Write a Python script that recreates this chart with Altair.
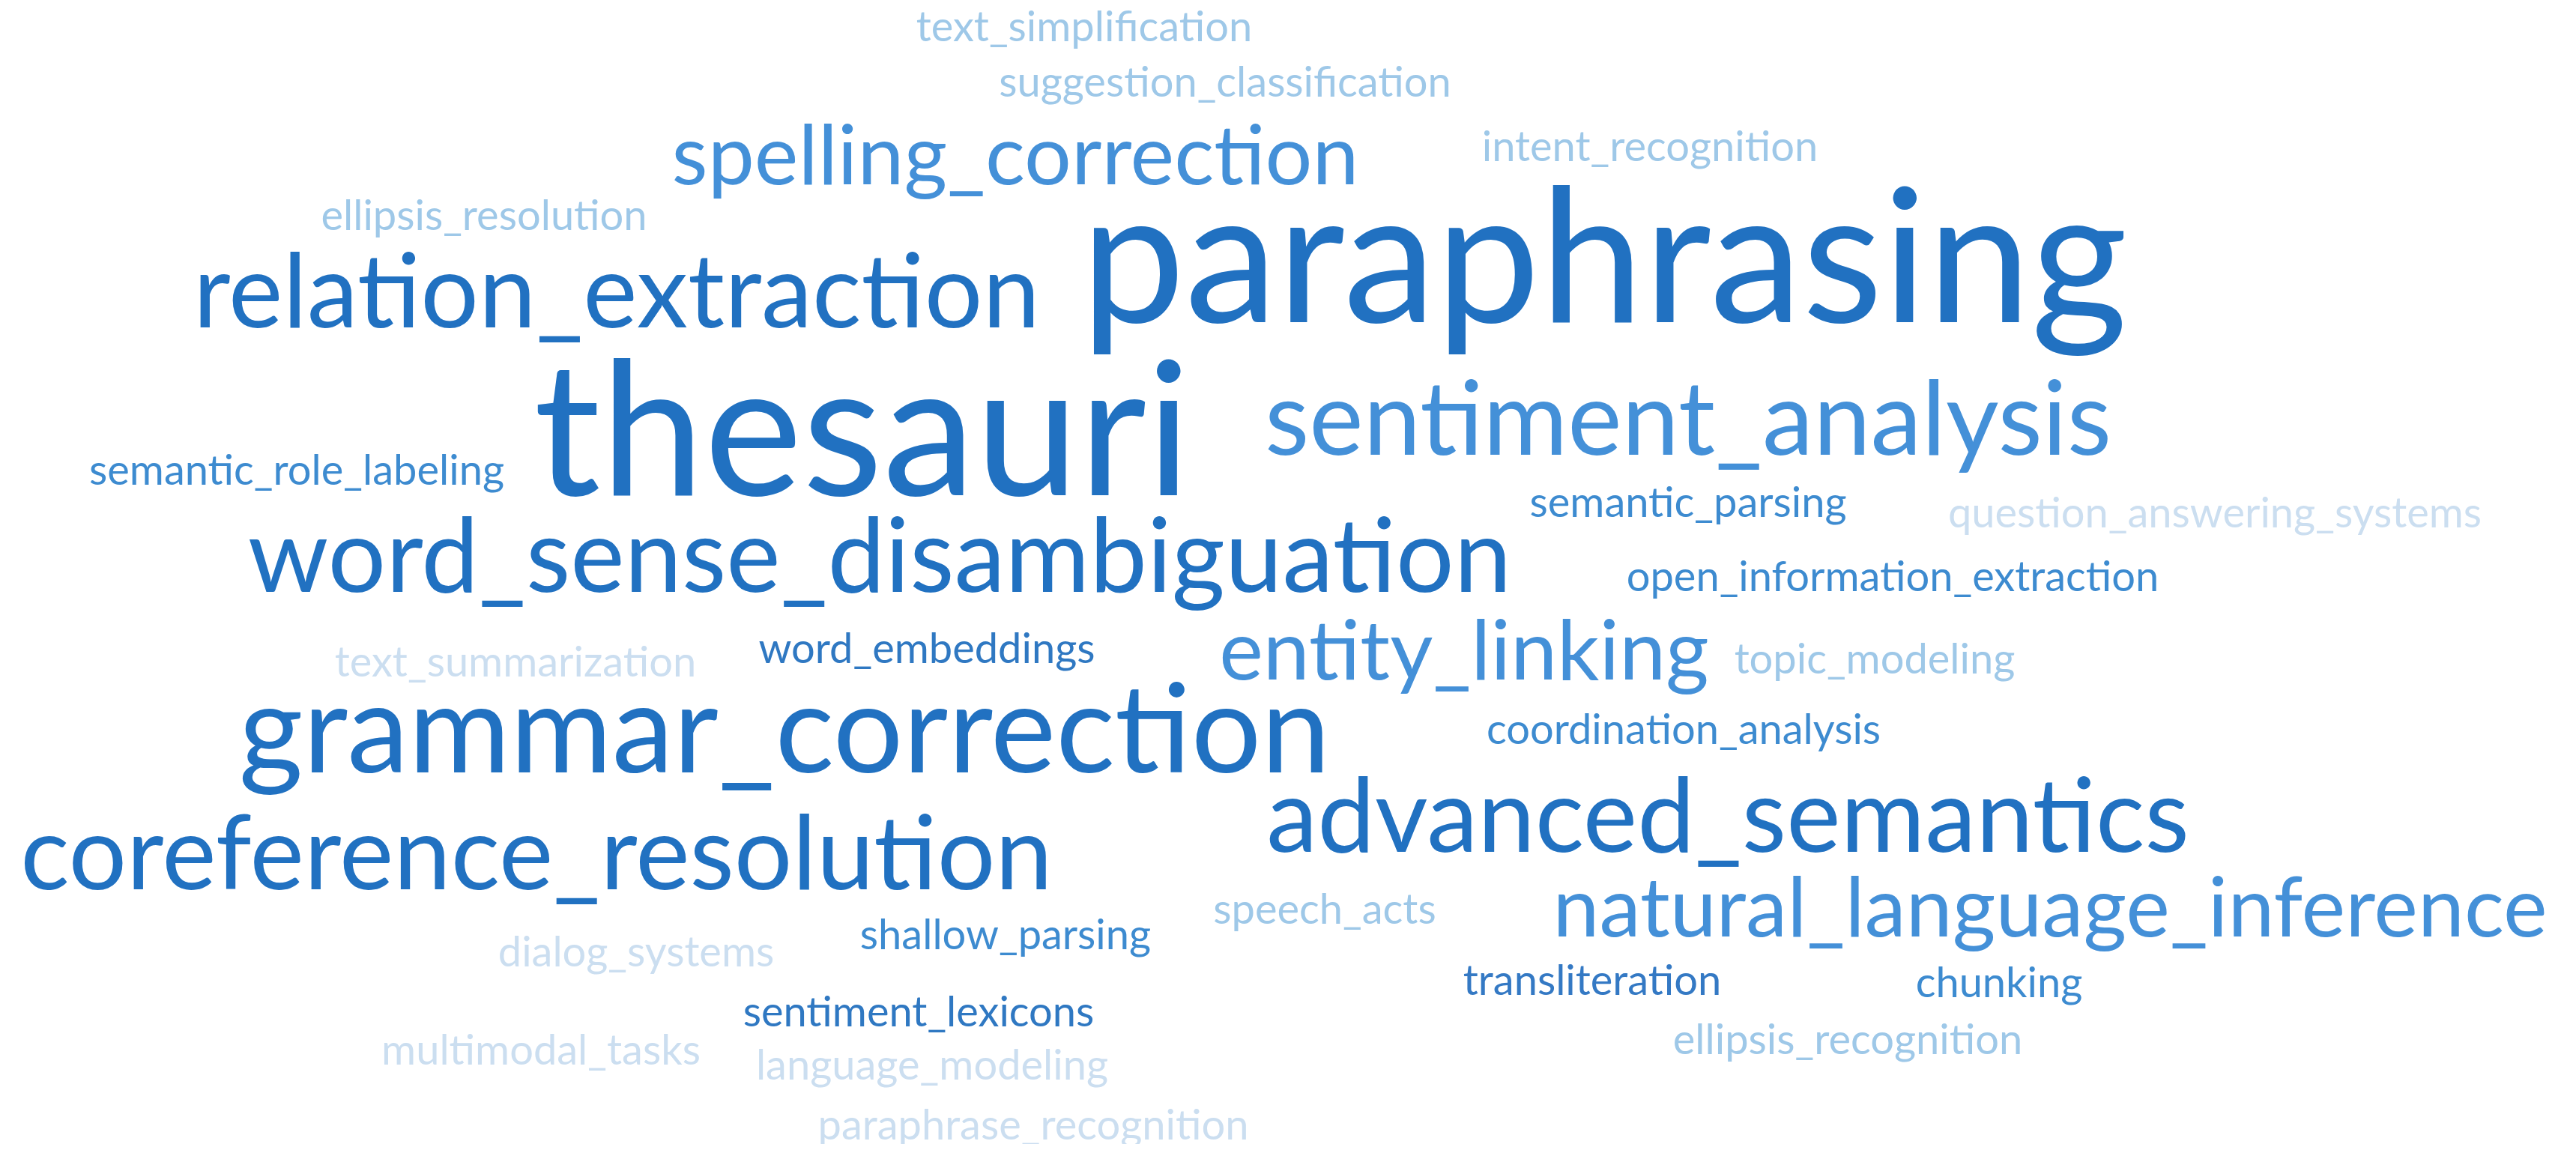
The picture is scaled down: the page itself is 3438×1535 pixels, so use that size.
import altair as alt
import pandas as pd

words = [
    "text_simplification", "suggestion_classification", "intent_recognition",
    "spelling_correction", "ellipsis_resolution", "paraphrasing",
    "relation_extraction", "thesauri", "sentiment_analysis",
    "semantic_role_labeling", "semantic_parsing", "question_answering_systems",
    "word_sense_disambiguation", "open_information_extraction", "word_embeddings",
    "text_summarization", "entity_linking", "topic_modeling",
    "coordination_analysis", "grammar_correction", "advanced_semantics",
    "coreference_resolution", "natural_language_inference", "speech_acts",
    "shallow_parsing", "dialog_systems", "transliteration",
    "chunking", "sentiment_lexicons", "multimodal_tasks",
    "ellipsis_recognition", "language_modeling", "paraphrase_recognition",
]
# horizontal centre and baseline of each word (pixel units of the picture)
pos_x = [1447, 1635, 2202, 1355, 646, 2141, 823, 1151, 2253, 396, 2253, 2956,
         1174, 2526, 1237, 688, 1954, 2502, 2247, 1047, 2306, 716, 2736, 1768,
         1342, 849, 2125, 2668, 1226, 722, 2466, 1244, 1379]
pos_y = [55, 129, 215, 246, 307, 430, 437, 661, 607, 647, 690, 704,
         790, 789, 885, 903, 907, 899, 993, 1031, 1137, 1187, 1250, 1233,
         1267, 1290, 1328, 1331, 1370, 1421, 1407, 1441, 1521]
sizes = [56, 56, 56, 111, 56, 248, 137, 248, 137, 56, 56, 56,
         137, 56, 56, 56, 111, 56, 56, 165, 137, 137, 111, 56,
         56, 56, 56, 56, 56, 56, 56, 56, 56]
shades = [
    "#9ec8e8", "#9ec8e8", "#9ec8e8", "#4490d8", "#9ec8e8", "#2171c1",
    "#2171c1", "#2171c1", "#4490d8", "#3d8bd0", "#3d8bd0", "#cbdef0",
    "#2171c1", "#3d8bd0", "#2f78c2", "#cbdef0", "#4490d8", "#9ec8e8",
    "#3d8bd0", "#2171c1", "#2171c1", "#2171c1", "#4490d8", "#9ec8e8",
    "#3d8bd0", "#cbdef0", "#3479c4", "#3d8bd0", "#2f78c2", "#cbdef0",
    "#9ec8e8", "#cbdef0", "#cbdef0",
]

df = pd.DataFrame({"word": words, "x": pos_x, "y": pos_y,
                   "size": sizes, "shade": shades})

chart = alt.Chart(df).mark_text(
    font="Lato", align="center", baseline="alphabetic"
).encode(
    x=alt.X("x:Q", scale=alt.Scale(domain=[8, 3430]), axis=None),
    y=alt.Y("y:Q", scale=alt.Scale(domain=[8, 1527], reverse=True), axis=None),
    text="word:N",
    size=alt.Size("size:Q", scale=None, legend=None),
    color=alt.Color("shade:N", scale=None, legend=None),
).properties(
    width=3422, height=1519, padding=0, autosize="none", background="white"
).configure_view(stroke=None)

chart.save("out.html", embed_options={"renderer": "svg", "actions": False})
